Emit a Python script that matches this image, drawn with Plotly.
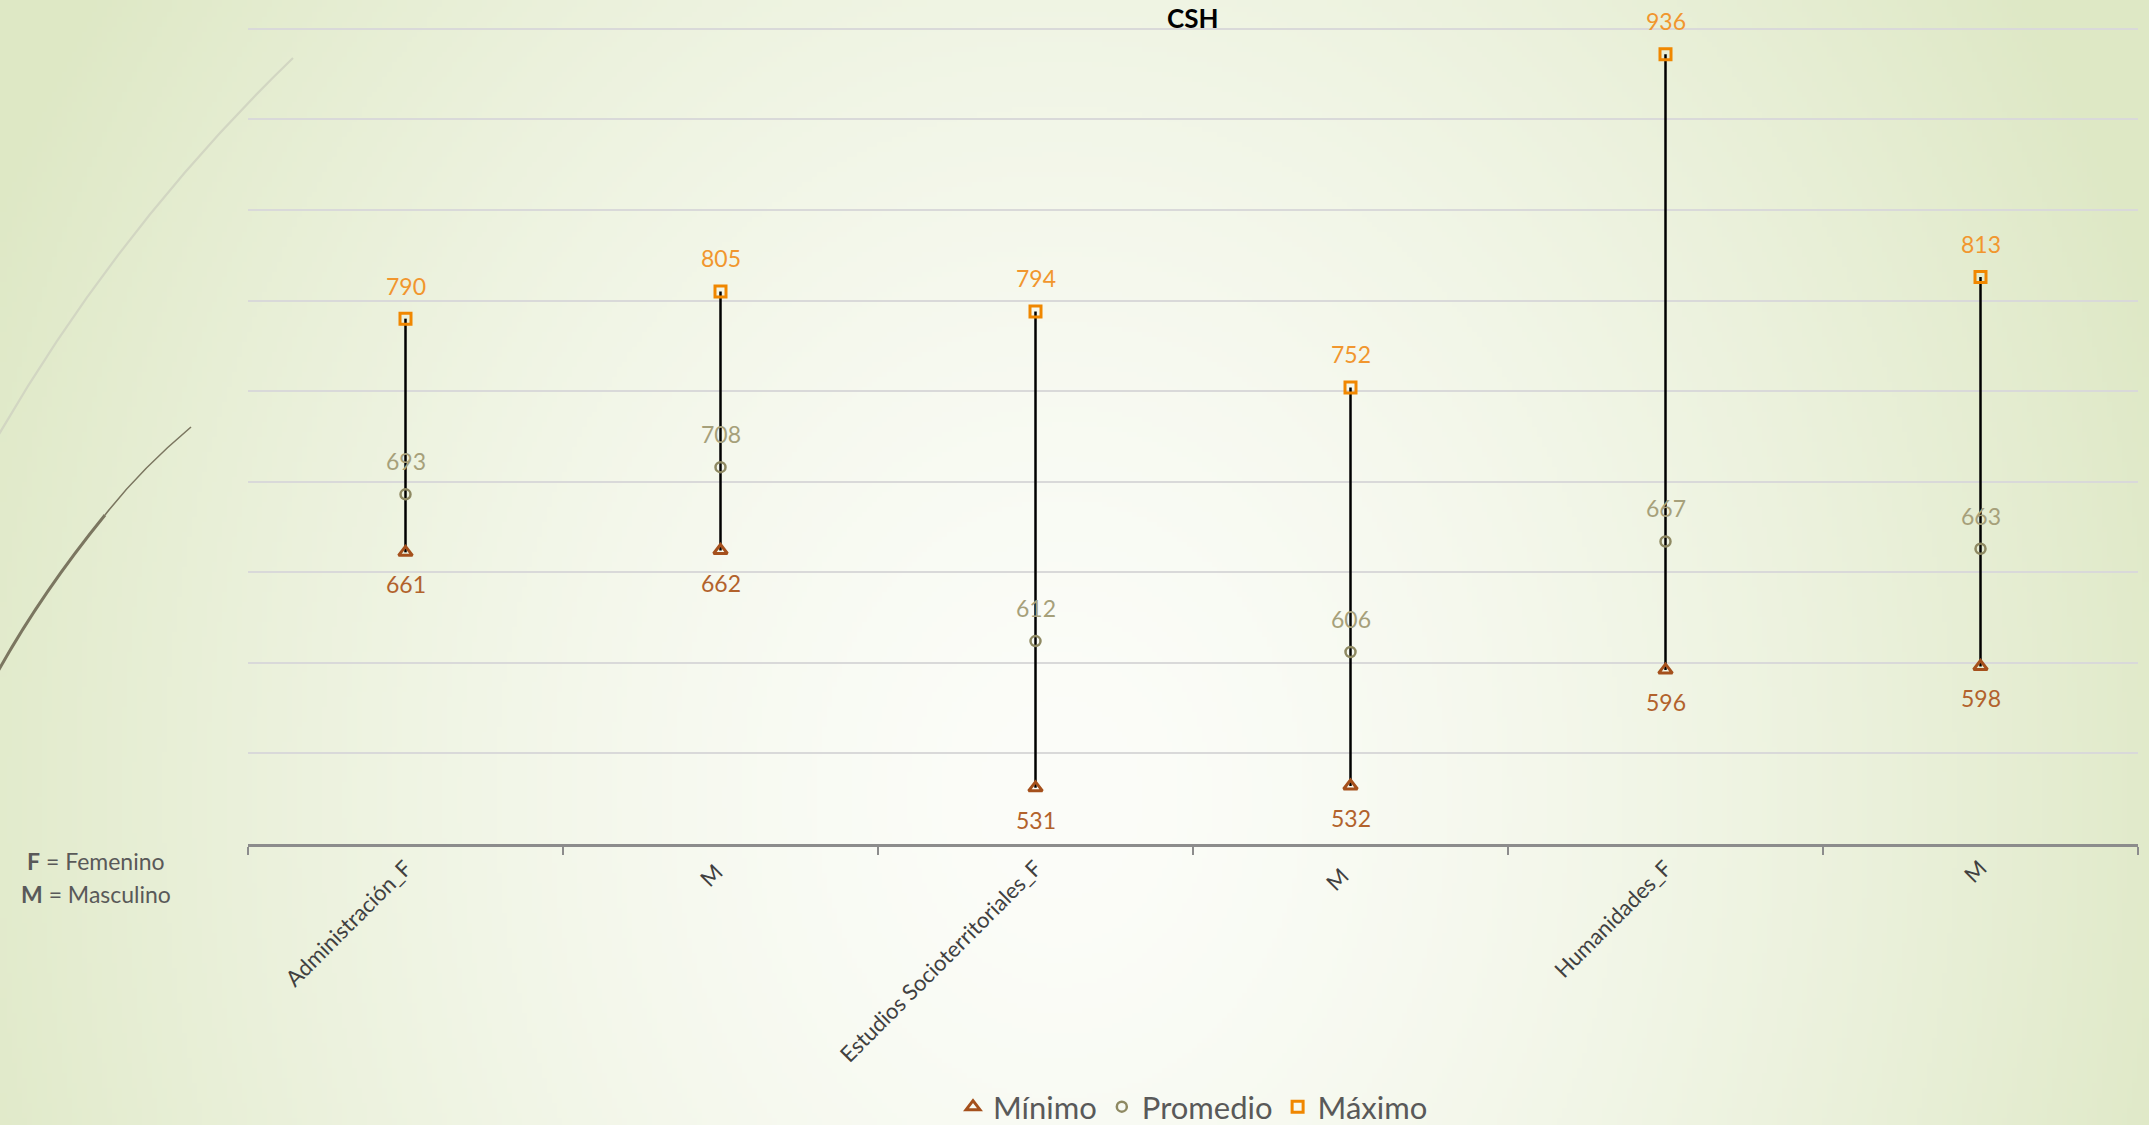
import base64, struct, zlib
import numpy as np
import plotly.graph_objects as go

# ---------------- data ----------------
categories = ["Administración_F", "M ", "Estudios Socioterritoriales_F", "M  ", "Humanidades_F", "M"]
minimo = [661, 662, 531, 532, 596, 598]
promedio = [693, 708, 612, 606, 667, 663]
maximo = [790, 805, 794, 752, 936, 813]

# ---------------- geometry ----------------
FW, FH = 2149, 1125
ML, MR, MT, MB = 248, 11, 27, 281
PW, PH = FW - ML - MR, FH - MT - MB

def px(xp):
    return (xp - ML) / PW

def py(yp):
    return (FH - MB - yp) / PH

# ---------------- background gradient (PNG) ----------------
def make_png(arr):
    h, w, _ = arr.shape
    raw = b"".join(b"\x00" + arr[i].tobytes() for i in range(h))
    def chunk(t, d):
        c = struct.pack(">I", len(d)) + t + d
        return c + struct.pack(">I", zlib.crc32(t + d) & 0xFFFFFFFF)
    ihdr = struct.pack(">IIBBBBB", w, h, 8, 2, 0, 0, 0)
    return b"\x89PNG\r\n\x1a\n" + chunk(b"IHDR", ihdr) + chunk(b"IDAT", zlib.compress(raw, 9)) + chunk(b"IEND", b"")

gw, gh = 430, 225
xs = np.linspace(0, FW, gw)[None, :]
ys = np.linspace(0, FH, gh)[:, None]
d = np.sqrt(((xs - 1060) / 1180) ** 2 + ((ys - 800) / 1450) ** 2)
t = np.clip(d, 0, 1) ** 1.5
c_in = np.array([252, 253, 249], float)
c_out = np.array([222, 232, 197], float)
img = (c_in[None, None, :] * (1 - t[..., None]) + c_out[None, None, :] * t[..., None]).astype(np.uint8)
src = "data:image/png;base64," + base64.b64encode(make_png(img)).decode()

# ---------------- figure ----------------
fig = go.Figure()

lx, ly = [], []
for c, lo, hi in zip(categories, minimo, maximo):
    lx += [c, c, None]
    ly += [lo, hi, None]
fig.add_trace(go.Scatter(x=lx, y=ly, mode="lines", line=dict(color="black", width=2.5),
                         showlegend=False, hoverinfo="skip"))

fig.add_trace(go.Scatter(x=categories, y=minimo, mode="markers", name="Mínimo",
                         marker=dict(symbol="triangle-up-open", size=12, color="#A5501C",
                                     line=dict(width=3, color="#A5501C"))))
fig.add_trace(go.Scatter(x=categories, y=promedio, mode="markers", name="Promedio",
                         marker=dict(symbol="circle-open", size=10, color="#8E8962",
                                     line=dict(width=2.5, color="#8E8962"))))
fig.add_trace(go.Scatter(x=categories, y=maximo, mode="markers", name="Máximo",
                         marker=dict(symbol="square-open", size=11, color="#F08700",
                                     line=dict(width=3, color="#F08700"))))

annotations = []
lab_font = "Lato"
for c, v in zip(categories, maximo):
    annotations.append(dict(x=c, y=v, xref="x", yref="y", text=str(v), showarrow=False,
                            yshift=33, font=dict(family=lab_font, size=23, color="#F1962E")))
for c, v in zip(categories, promedio):
    annotations.append(dict(x=c, y=v, xref="x", yref="y", text=str(v), showarrow=False,
                            yshift=33, font=dict(family=lab_font, size=23, color="#A6A07A")))
for c, v in zip(categories, minimo):
    annotations.append(dict(x=c, y=v, xref="x", yref="y", text=str(v), showarrow=False,
                            yshift=-32, font=dict(family=lab_font, size=23, color="#B2622C")))

annotations.append(dict(x=0.5, y=py(18), xref="paper", yref="paper", text="<b>CSH</b>",
                        xanchor="center", yanchor="middle", showarrow=False,
                        font=dict(family=lab_font, size=26, color="black")))
annotations.append(dict(x=px(96), y=py(861), xref="paper", yref="paper",
                        xanchor="center", yanchor="middle",
                        text="<b>F</b> = Femenino", showarrow=False,
                        font=dict(family=lab_font, size=23, color="#595959")))
annotations.append(dict(x=px(96), y=py(894), xref="paper", yref="paper",
                        xanchor="center", yanchor="middle",
                        text="<b>M</b> = Masculino", showarrow=False,
                        font=dict(family=lab_font, size=23, color="#595959")))

shapes = [
    dict(type="path", xref="paper", yref="paper", layer="below",
         path=f"M {px(293)} {py(58)} Q {px(120)} {py(225)} {px(-2)} {py(436)}",
         line=dict(color="#D2D6C2", width=2.2)),
    dict(type="path", xref="paper", yref="paper", layer="below",
         path=f"M {px(191)} {py(427)} Q {px(140)} {py(470)} {px(105)} {py(515)}",
         line=dict(color="#7B7660", width=1.6)),
    dict(type="path", xref="paper", yref="paper", layer="below",
         path=f"M {px(105)} {py(515)} Q {px(40)} {py(595)} {px(-4)} {py(675)}",
         line=dict(color="#7B7660", width=3)),
]

fig.update_layout(
    width=FW, height=FH,
    margin=dict(l=ML, r=MR, t=MT, b=MB, autoexpand=False),
    paper_bgcolor="#EEF3E2",
    plot_bgcolor="rgba(0,0,0,0)",
    images=[dict(source=src, xref="paper", yref="paper", x=px(0), y=py(0),
                 sizex=FW / PW, sizey=FH / PH, sizing="stretch", layer="below",
                 xanchor="left", yanchor="top")],
    annotations=annotations,
    shapes=shapes,
    showlegend=True,
    legend=dict(orientation="h", x=0.5, xanchor="center", y=py(1107), yanchor="middle",
                font=dict(family=lab_font, size=31, color="#595959"),
                bgcolor="rgba(0,0,0,0)", itemwidth=30, tracegroupgap=0),
    font=dict(family=lab_font),
)

fig.update_xaxes(
    type="category", categoryorder="array", categoryarray=categories,
    showgrid=False, showline=True, linecolor="#8C8C8C", linewidth=2.5,
    ticks="outside", tickson="boundaries", ticklen=8, tickcolor="#8C8C8C", tickwidth=2,
    tickangle=-45, tickfont=dict(family=lab_font, size=22, color="#404040"),
    range=[-0.5, len(categories) - 0.5], zeroline=False, automargin=False,
)
fig.update_yaxes(
    range=[500, 951], dtick=50, tick0=500, showgrid=True, gridcolor="#D9D9D9", gridwidth=2.2,
    showticklabels=False, zeroline=False, showline=False, ticks="", automargin=False,
)

fig.write_html("out.html", config={"displayModeBar": False},
               post_script="document.body.style.margin='0';document.body.style.overflow='hidden';")
